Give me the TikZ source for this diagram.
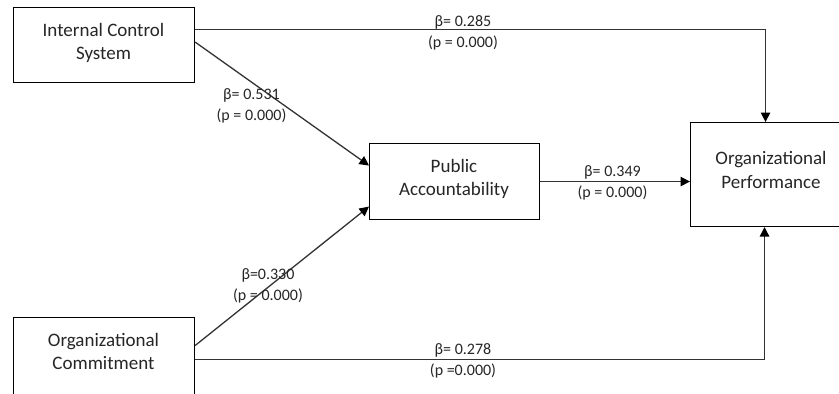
\documentclass[tikz,border=0pt]{standalone}
\usepackage{fontspec}
\setmainfont{Carlito}
\usetikzlibrary{arrows.meta}
\begin{document}
\begin{tikzpicture}[x=1pt,y=-1pt,
  box/.style={draw=black, line width=1.1pt, inner sep=0pt, anchor=north west},
  boxtext/.style={align=center, font=\fontsize{19}{23.5}\selectfont, text=black!85, inner sep=0pt},
  lab/.style={align=center, font=\fontsize{16}{21}\selectfont, text=black!85, inner sep=0pt},
  conn/.style={draw=black!80, line width=1.3pt},
  arr/.style={conn, -{Triangle[length=9.5pt,width=9.5pt,color=black]}}]
\useasboundingbox (0,0) rectangle (839,394);
\clip (0,0) rectangle (839,394);
\fill[white] (0,0) rectangle (839,394);
% boxes
\node[box, minimum width=181pt, minimum height=75pt] (ics) at (13,7) {};
\node[box, minimum width=170pt, minimum height=76pt] (pa) at (369,143) {};
\node[box, minimum width=162pt, minimum height=104pt] (op) at (690,122) {};
\node[box, minimum width=181pt, minimum height=95pt] (oc) at (13,317) {};
% box texts
\node[boxtext] (icst) at (103.5,43) {Internal Control\\System};
\node[boxtext] (pat) at (454,179) {Public\\Accountability};
\node[boxtext] (opt) at (771,170) {Organizational\\Performance};
\node[boxtext] (oct) at (103.5,351.5) {Organizational\\Commitment};
% connectors
\draw[arr] ([yshift=15.5pt]ics.east) -| ([xshift=-6pt]op.north);
\draw[arr] ([yshift=3pt]ics.east) -- ([yshift=16pt]pa.west);
\draw[arr] ([yshift=19.5pt]oc.east) -- ([yshift=-25pt]pa.west);
\draw[arr] ([yshift=5.5pt]oc.east) -| ([xshift=-7pt]op.south);
\draw[arr] (pa.east) -- (pa.east -| op.west);
% labels
\node[lab] (l1) at (463,33) {β= 0.285\\(p = 0.000)};
\node[lab] (l2) at (251.5,106) {β= 0.531\\(p = 0.000)};
\node[lab] (l3) at (612.5,183) {β= 0.349\\(p = 0.000)};
\node[lab] (l4) at (268,286) {β=0.330\\(p = 0.000)};
\node[lab] (l5) at (463,361) {β= 0.278\\(p =0.000)};
\end{tikzpicture}
\end{document}
